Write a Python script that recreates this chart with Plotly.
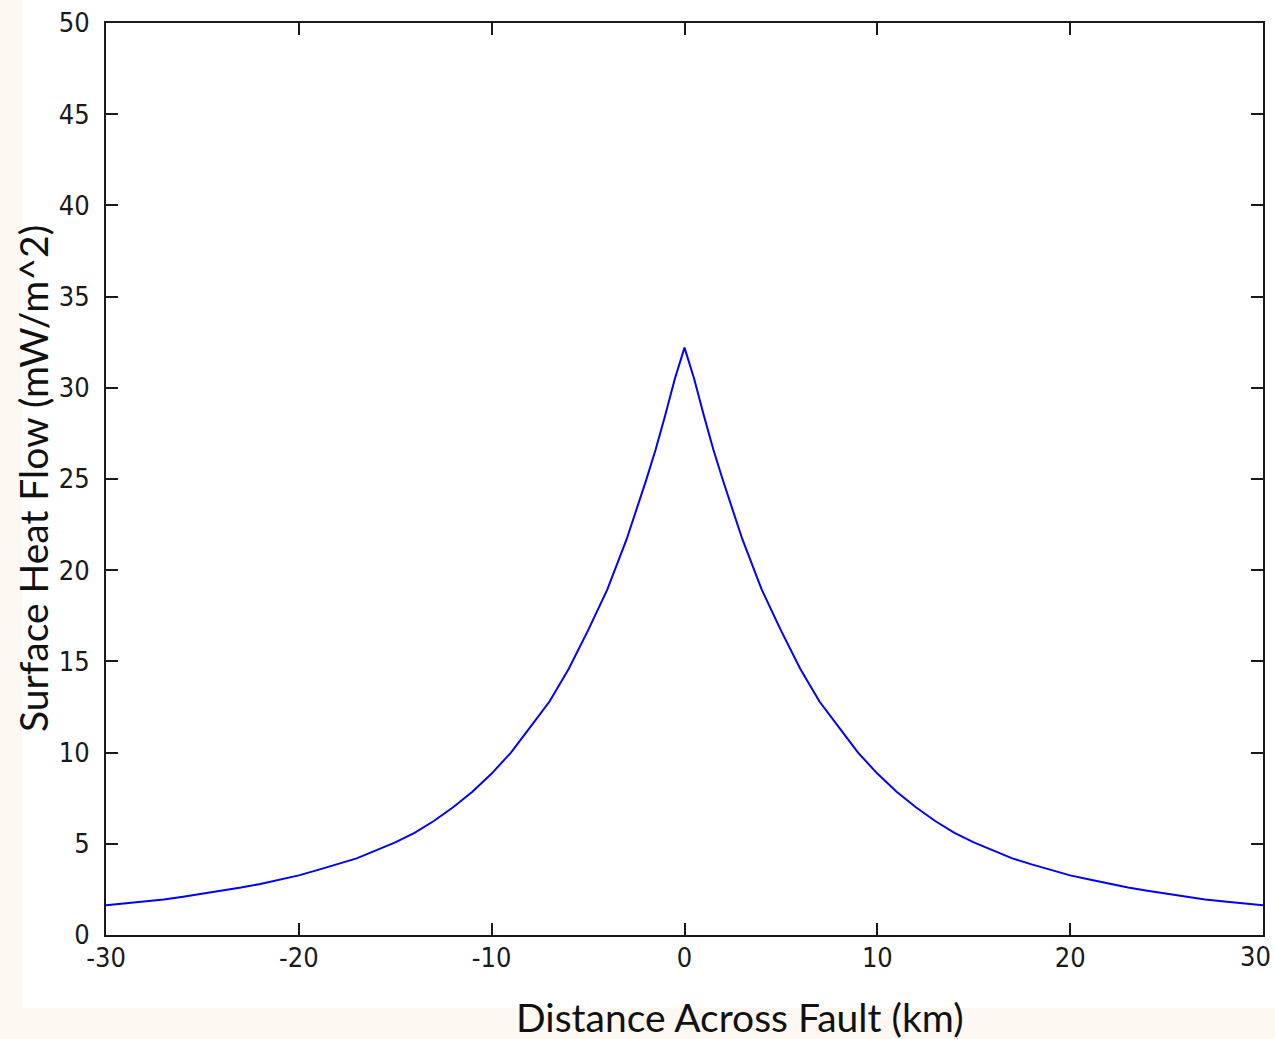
import plotly.graph_objects as go

# Data
distance_km = [-30, -29, -28, -27, -26, -25, -24, -23, -22, -21, -20, -19, -18, -17, -16,
               -15, -14, -13, -12, -11, -10, -9, -8, -7, -6, -5, -4, -3, -2, -1.5, -1, -0.5,
               0, 0.5, 1, 1.5, 2, 3, 4, 5, 6, 7, 8, 9, 10, 11, 12, 13, 14, 15, 16, 17, 18, 19,
               20, 21, 22, 23, 24, 25, 26, 27, 28, 29, 30]
heat_flow = [1.63, 1.73, 1.84, 1.95, 2.10, 2.26, 2.43, 2.60, 2.80, 3.04, 3.27, 3.57, 3.87, 4.20, 4.64,
             5.08, 5.60, 6.25, 7.00, 7.85, 8.85, 10.0, 11.4, 12.8, 14.6, 16.7, 18.95, 21.7, 24.9, 26.6, 28.5, 30.5,
             32.2, 30.5, 28.5, 26.6, 24.9, 21.7, 18.95, 16.7, 14.6, 12.8, 11.4, 10.0, 8.85, 7.85, 7.00, 6.25, 5.60, 5.08,
             4.64, 4.20, 3.87, 3.57, 3.27, 3.04, 2.80, 2.60, 2.43, 2.26, 2.10, 1.95, 1.84, 1.73, 1.63]

x_ticks = [-30, -20, -10, 0, 10, 20, 30]
y_ticks = [0, 5, 10, 15, 20, 25, 30, 35, 40, 45, 50]

x_title = "Distance Across Fault (km)"
y_title = "Surface Heat Flow (mW/m^2)"

fig = go.Figure()
fig.add_trace(go.Scatter(x=distance_km, y=heat_flow, mode="lines",
                         line=dict(color="#0000ff", width=2), showlegend=False))

tickfont = dict(family="Liberation Sans Narrow, DejaVu Sans Condensed, Arial Narrow, sans-serif",
                size=27, color="#1a1a1a")
axis_common = dict(showgrid=False, zeroline=False, showline=True, linecolor="#1a1a1a",
                   linewidth=2, mirror="ticks", ticks="inside", ticklen=12, tickwidth=2,
                   tickcolor="#1a1a1a", tickfont=tickfont, ticklabeloverflow="allow",
                   automargin=False)

# last x tick label is drawn as an annotation so it stays inside the page
x_ticktext = [str(v) for v in x_ticks[:-1]] + [""]
fig.update_xaxes(range=[-30, 30], tickvals=x_ticks, ticktext=x_ticktext,
                 ticklabelstandoff=-2, **axis_common)
fig.update_yaxes(range=[0, 50], tickvals=y_ticks, ticktext=[str(v) for v in y_ticks],
                 ticklabelstandoff=9, **axis_common)
fig.add_annotation(text=str(x_ticks[-1]), xref="x", yref="paper", x=x_ticks[-1], y=0,
                   xanchor="right", yanchor="top", xshift=10, yshift=-4,
                   showarrow=False, font=tickfont)

titlefont = dict(family="Lato, Open Sans, sans-serif", size=39, color="#111111")
fig.add_annotation(text=x_title, xref="paper", yref="paper", x=(740 - 106) / 1157,
                   y=-(1017 - 935) / 912, xanchor="center", yanchor="middle",
                   showarrow=False, font=titlefont)
fig.add_annotation(text=y_title, xref="paper", yref="paper", x=-(106 - 33) / 1157,
                   y=0.5, xanchor="center", yanchor="middle", textangle=-90,
                   showarrow=False, font=titlefont)

# faint cream paper edges
fig.add_shape(type="rect", xref="paper", yref="paper", x0=-106 / 1157, x1=-84 / 1157,
              y0=-104 / 912, y1=(912 + 23) / 912, fillcolor="#fdf8f1", line_width=0, layer="below")
fig.add_shape(type="rect", xref="paper", yref="paper", x0=-106 / 1157, x1=(1157 + 12) / 1157,
              y0=-104 / 912, y1=-(1008 - 935) / 912, fillcolor="#fdf8f1", line_width=0, layer="below")

fig.update_layout(width=1275, height=1039, margin=dict(l=106, r=12, t=23, b=104, autoexpand=False),
                  paper_bgcolor="white", plot_bgcolor="white")

fig.write_html("out.html", config={"displayModeBar": False},
               post_script="document.body.style.margin='0px';")
